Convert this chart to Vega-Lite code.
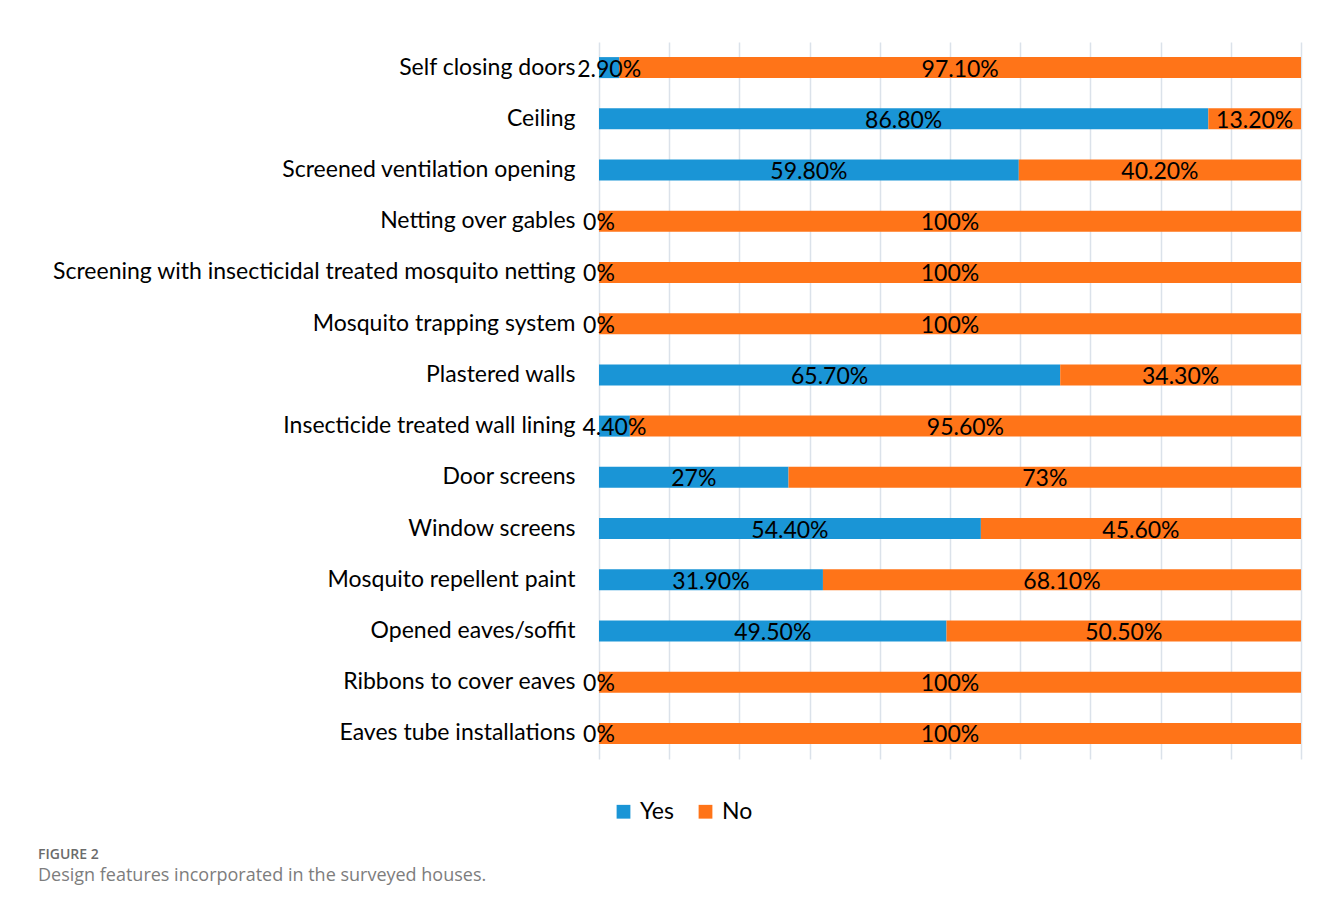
{
  "$schema": "https://vega.github.io/schema/vega-lite/v6.json",
  "autosize": {"type": "none"},
  "padding": {"left": 599, "top": 42, "right": 18, "bottom": 147},
  "width": 702,
  "height": 717,
  "background": "white",
  "data": {"values": [
    {"feature": "Self closing doors", "answer": "Yes", "value": 2.9, "label": "2.90%"},
    {"feature": "Self closing doors", "answer": "No", "value": 97.1, "label": "97.10%"},
    {"feature": "Ceiling", "answer": "Yes", "value": 86.8, "label": "86.80%"},
    {"feature": "Ceiling", "answer": "No", "value": 13.2, "label": "13.20%"},
    {"feature": "Screened ventilation opening\u00a0\u00a0", "answer": "Yes", "value": 59.8, "label": "59.80%"},
    {"feature": "Screened ventilation opening\u00a0\u00a0", "answer": "No", "value": 40.2, "label": "40.20%"},
    {"feature": "Netting over gables\u00a0\u00a0", "answer": "Yes", "value": 0, "label": "0%"},
    {"feature": "Netting over gables\u00a0\u00a0", "answer": "No", "value": 100, "label": "100%"},
    {"feature": "Screening with insecticidal treated mosquito netting\u00a0\u00a0", "answer": "Yes", "value": 0, "label": "0%"},
    {"feature": "Screening with insecticidal treated mosquito netting\u00a0\u00a0", "answer": "No", "value": 100, "label": "100%"},
    {"feature": "Mosquito trapping system\u00a0\u00a0", "answer": "Yes", "value": 0, "label": "0%"},
    {"feature": "Mosquito trapping system\u00a0\u00a0", "answer": "No", "value": 100, "label": "100%"},
    {"feature": "Plastered walls\u00a0\u00a0", "answer": "Yes", "value": 65.7, "label": "65.70%"},
    {"feature": "Plastered walls\u00a0\u00a0", "answer": "No", "value": 34.3, "label": "34.30%"},
    {"feature": "Insecticide treated wall lining\u00a0\u00a0", "answer": "Yes", "value": 4.4, "label": "4.40%"},
    {"feature": "Insecticide treated wall lining\u00a0\u00a0", "answer": "No", "value": 95.6, "label": "95.60%"},
    {"feature": "Door screens\u00a0\u00a0", "answer": "Yes", "value": 27, "label": "27%"},
    {"feature": "Door screens\u00a0\u00a0", "answer": "No", "value": 73, "label": "73%"},
    {"feature": "Window screens\u00a0\u00a0", "answer": "Yes", "value": 54.4, "label": "54.40%"},
    {"feature": "Window screens\u00a0\u00a0", "answer": "No", "value": 45.6, "label": "45.60%"},
    {"feature": "Mosquito repellent paint", "answer": "Yes", "value": 31.9, "label": "31.90%"},
    {"feature": "Mosquito repellent paint", "answer": "No", "value": 68.1, "label": "68.10%"},
    {"feature": "Opened eaves/soffit\u00a0\u00a0", "answer": "Yes", "value": 49.5, "label": "49.50%"},
    {"feature": "Opened eaves/soffit\u00a0\u00a0", "answer": "No", "value": 50.5, "label": "50.50%"},
    {"feature": "Ribbons to cover eaves", "answer": "Yes", "value": 0, "label": "0%"},
    {"feature": "Ribbons to cover eaves", "answer": "No", "value": 100, "label": "100%"},
    {"feature": "Eaves tube installations", "answer": "Yes", "value": 0, "label": "0%"},
    {"feature": "Eaves tube installations", "answer": "No", "value": 100, "label": "100%"}
  ]},
  "transform": [
    {"calculate": "datum.answer === 'Yes' ? 0 : 1", "as": "ord"},
    {"stack": "value", "groupby": ["feature"], "sort": [{"field": "ord", "order": "ascending"}], "as": ["v0", "v1"]},
    {"calculate": "(datum.v0 + datum.v1) / 2", "as": "mid"}
  ],
  "encoding": {
    "y": {
      "field": "feature", "type": "nominal", "sort": null, "title": null,
      "scale": {"paddingInner": 0, "paddingOuter": 0},
      "axis": {"ticks": false, "domain": false, "grid": false, "labelFontSize": 23, "labelFont": "Lato", "labelColor": "#000000", "labelPadding": 24, "labelLimit": 700}
    }
  },
  "layer": [
    {
      "mark": {"type": "bar", "size": 21},
      "encoding": {
        "x": {"field": "v0", "type": "quantitative", "scale": {"domain": [0, 100], "nice": false},
              "axis": {"title": null, "labels": false, "ticks": false, "domain": false, "grid": true, "values": [0,10,20,30,40,50,60,70,80,90,100], "gridColor": "#dbe2ea", "gridWidth": 1.5}},
        "x2": {"field": "v1"},
        "color": {"field": "answer", "type": "nominal", "sort": ["Yes", "No"],
                  "scale": {"domain": ["Yes", "No"], "range": ["#1a95d6", "#ff7418"]},
                  "legend": {"title": null, "orient": "none", "legendX": 13, "legendY": 758, "direction": "horizontal", "symbolType": "square", "symbolSize": 190, "symbolStrokeWidth": 0, "labelFontSize": 23, "labelFont": "Lato", "labelColor": "#000000", "columnPadding": 20, "labelOffset": 5, "padding": 0}}
      }
    },
    {
      "mark": {"type": "text", "fontSize": 23, "font": "Lato", "color": "#000000", "align": "center", "baseline": "middle", "dy": 2},
      "encoding": {
        "x": {"field": "mid", "type": "quantitative"},
        "text": {"field": "label"}
      }
    }
  ],
  "title": {
    "text": "FIGURE 2",
    "subtitle": "Design features incorporated in the surveyed houses.",
    "orient": "bottom", "anchor": "start", "frame": "group", "dx": -561, "offset": 24,
    "font": "Open Sans", "fontSize": 14, "fontWeight": 600, "color": "#6b6b6b",
    "subtitleFont": "Open Sans", "subtitleFontSize": 18, "subtitleColor": "#7d7d7d", "subtitlePadding": 5
  },
  "config": {"view": {"stroke": null}}
}
